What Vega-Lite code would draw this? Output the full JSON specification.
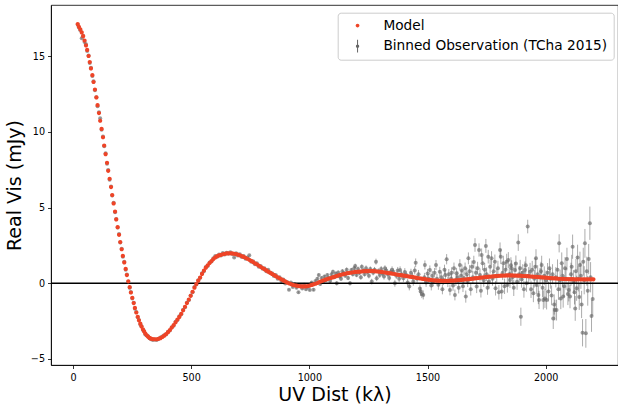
{
  "$schema": "https://vega.github.io/schema/vega-lite/v6.json",
  "width": 567,
  "height": 360,
  "autosize": {"type": "none"},
  "padding": {"left": 51, "top": 5, "right": 0, "bottom": 42},
  "background": "white",
  "datasets": {
    "model": [
      {"u":20,"v":17.13},{"u":25,"v":16.95},{"u":31,"v":16.78},{"u":37,"v":16.58},{"u":43,"v":16.33},{"u":49,"v":16.04},{"u":55,"v":15.72},{"u":60,"v":15.42},{"u":66,"v":15.02},{"u":71,"v":14.62},{"u":76,"v":14.2},{"u":82,"v":13.75},{"u":87,"v":13.3},{"u":93,"v":12.8},{"u":99,"v":12.28},{"u":104,"v":11.77},{"u":110,"v":11.25},{"u":115,"v":10.74},{"u":121,"v":10.2},{"u":127,"v":9.65},{"u":132,"v":9.1},{"u":138,"v":8.53},{"u":144,"v":7.96},{"u":149,"v":7.43},{"u":155,"v":6.9},{"u":161,"v":6.36},{"u":166,"v":5.83},{"u":172,"v":5.28},{"u":178,"v":4.74},{"u":183,"v":4.22},{"u":189,"v":3.71},{"u":195,"v":3.2},{"u":200,"v":2.72},{"u":206,"v":2.25},{"u":211,"v":1.81},{"u":217,"v":1.38},{"u":223,"v":0.95},{"u":228,"v":0.54},{"u":234,"v":0.13},{"u":240,"v":-0.26},{"u":245,"v":-0.61},{"u":251,"v":-0.96},{"u":257,"v":-1.31},{"u":262,"v":-1.63},{"u":268,"v":-1.93},{"u":274,"v":-2.21},{"u":279,"v":-2.45},{"u":285,"v":-2.67},{"u":290,"v":-2.86},{"u":296,"v":-3.04},{"u":301,"v":-3.19},{"u":306,"v":-3.32},{"u":312,"v":-3.44},{"u":318,"v":-3.54},{"u":324,"v":-3.61},{"u":330,"v":-3.66},
      {"u":338,"v":-3.69},{"u":346,"v":-3.7},{"u":354,"v":-3.7},{"u":362,"v":-3.67},{"u":370,"v":-3.63},{"u":378,"v":-3.55},{"u":386,"v":-3.46},{"u":394,"v":-3.35},{"u":402,"v":-3.23},{"u":410,"v":-3.09},{"u":418,"v":-2.93},{"u":426,"v":-2.76},{"u":434,"v":-2.58},{"u":442,"v":-2.4},{"u":450,"v":-2.22},{"u":458,"v":-2.02},{"u":466,"v":-1.79},{"u":474,"v":-1.55},{"u":482,"v":-1.31},{"u":490,"v":-1.07},{"u":498,"v":-0.83},{"u":506,"v":-0.56},{"u":514,"v":-0.29},{"u":522,"v":-0.05},{"u":530,"v":0.17},{"u":538,"v":0.38},{"u":546,"v":0.62},{"u":554,"v":0.84},{"u":562,"v":1.03},{"u":570,"v":1.19},{"u":578,"v":1.34},{"u":586,"v":1.47},{"u":594,"v":1.6},{"u":602,"v":1.71},{"u":610,"v":1.79},{"u":618,"v":1.84},{"u":626,"v":1.88},{"u":634,"v":1.92},{"u":642,"v":1.95},{"u":650,"v":1.97},{"u":658,"v":1.98},{"u":666,"v":1.98},{"u":674,"v":1.97},{"u":682,"v":1.95},{"u":690,"v":1.93},{"u":698,"v":1.89},{"u":706,"v":1.85},{"u":714,"v":1.8},{"u":722,"v":1.74},{"u":730,"v":1.68},{"u":738,"v":1.62},{"u":746,"v":1.55},{"u":754,"v":1.48},{"u":762,"v":1.4},{"u":770,"v":1.32},{"u":778,"v":1.25},{"u":786,"v":1.17},{"u":794,"v":1.09},{"u":802,"v":1.01},{"u":810,"v":0.93},{"u":818,"v":0.85},{"u":826,"v":0.77},{"u":834,"v":0.7},{"u":842,"v":0.62},{"u":850,"v":0.55},{"u":858,"v":0.47},{"u":866,"v":0.4},{"u":874,"v":0.33},{"u":882,"v":0.26},{"u":890,"v":0.19},{"u":898,"v":0.12},{"u":906,"v":0.05},{"u":914,"v":0.0},{"u":922,"v":-0.05},{"u":930,"v":-0.1},{"u":938,"v":-0.13},{"u":946,"v":-0.16},{"u":954,"v":-0.18},{"u":962,"v":-0.2},{"u":970,"v":-0.21},{"u":978,"v":-0.21},{"u":986,"v":-0.2},{"u":994,"v":-0.18},{"u":1002,"v":-0.15},{"u":1010,"v":-0.11},{"u":1018,"v":-0.07},{"u":1026,"v":-0.03},{"u":1034,"v":0.02},{"u":1042,"v":0.08},{"u":1050,"v":0.13},{"u":1058,"v":0.18},{"u":1066,"v":0.22},{"u":1074,"v":0.27},{"u":1082,"v":0.31},{"u":1090,"v":0.35},{"u":1098,"v":0.39},{"u":1106,"v":0.43},{"u":1114,"v":0.47},{"u":1122,"v":0.51},{"u":1130,"v":0.55},{"u":1138,"v":0.58},{"u":1146,"v":0.61},{"u":1154,"v":0.64},{"u":1162,"v":0.67},{"u":1170,"v":0.69},{"u":1178,"v":0.71},{"u":1186,"v":0.73},{"u":1194,"v":0.75},{"u":1202,"v":0.76},{"u":1210,"v":0.77},{"u":1218,"v":0.78},{"u":1226,"v":0.79},{"u":1234,"v":0.8},{"u":1242,"v":0.8},{"u":1250,"v":0.81},{"u":1258,"v":0.81},{"u":1266,"v":0.81},{"u":1274,"v":0.8},{"u":1282,"v":0.79},{"u":1290,"v":0.78},{"u":1298,"v":0.77},{"u":1306,"v":0.75},{"u":1314,"v":0.73},{"u":1322,"v":0.71},{"u":1330,"v":0.69},{"u":1338,"v":0.67},{"u":1346,"v":0.65},{"u":1354,"v":0.63},{"u":1362,"v":0.61},{"u":1370,"v":0.58},{"u":1378,"v":0.56},{"u":1386,"v":0.54},{"u":1394,"v":0.52},{"u":1402,"v":0.5},{"u":1410,"v":0.48},{"u":1418,"v":0.46},{"u":1426,"v":0.44},{"u":1434,"v":0.42},{"u":1442,"v":0.4},{"u":1450,"v":0.37},{"u":1458,"v":0.35},{"u":1466,"v":0.33},{"u":1474,"v":0.31},{"u":1482,"v":0.29},{"u":1490,"v":0.27},{"u":1498,"v":0.25},{"u":1506,"v":0.23},{"u":1514,"v":0.22},{"u":1522,"v":0.2},{"u":1530,"v":0.19},{"u":1538,"v":0.18},{"u":1546,"v":0.17},{"u":1554,"v":0.17},{"u":1562,"v":0.16},{"u":1570,"v":0.16},{"u":1578,"v":0.16},{"u":1586,"v":0.16},{"u":1594,"v":0.17},{"u":1602,"v":0.17},{"u":1610,"v":0.18},{"u":1618,"v":0.19},{"u":1626,"v":0.2},{"u":1634,"v":0.21},{"u":1642,"v":0.22},{"u":1650,"v":0.24},{"u":1658,"v":0.25},{"u":1666,"v":0.26},{"u":1674,"v":0.27},{"u":1682,"v":0.29},{"u":1690,"v":0.3},{"u":1698,"v":0.32},{"u":1706,"v":0.34},{"u":1714,"v":0.35},{"u":1722,"v":0.37},{"u":1730,"v":0.38},{"u":1738,"v":0.4},{"u":1746,"v":0.41},{"u":1754,"v":0.42},{"u":1762,"v":0.44},{"u":1770,"v":0.45},{"u":1778,"v":0.46},{"u":1786,"v":0.47},{"u":1794,"v":0.48},{"u":1802,"v":0.49},{"u":1810,"v":0.5},{"u":1818,"v":0.51},{"u":1826,"v":0.51},{"u":1834,"v":0.52},{"u":1842,"v":0.52},{"u":1850,"v":0.52},{"u":1858,"v":0.52},{"u":1866,"v":0.51},{"u":1874,"v":0.51},{"u":1882,"v":0.5},{"u":1890,"v":0.5},{"u":1898,"v":0.49},{"u":1906,"v":0.48},{"u":1914,"v":0.48},{"u":1922,"v":0.47},{"u":1930,"v":0.46},{"u":1938,"v":0.45},{"u":1946,"v":0.44},{"u":1954,"v":0.43},{"u":1962,"v":0.42},{"u":1970,"v":0.41},{"u":1978,"v":0.4},{"u":1986,"v":0.39},{"u":1994,"v":0.38},{"u":2002,"v":0.37},{"u":2010,"v":0.36},{"u":2018,"v":0.35},{"u":2026,"v":0.34},{"u":2034,"v":0.33},{"u":2042,"v":0.32},{"u":2050,"v":0.31},{"u":2058,"v":0.3},{"u":2066,"v":0.3},{"u":2074,"v":0.29},{"u":2082,"v":0.28},{"u":2090,"v":0.28},{"u":2098,"v":0.27},{"u":2106,"v":0.27},{"u":2114,"v":0.27},{"u":2122,"v":0.26},{"u":2130,"v":0.26},{"u":2138,"v":0.26},{"u":2146,"v":0.26},{"u":2154,"v":0.26},{"u":2162,"v":0.26},{"u":2170,"v":0.26},{"u":2178,"v":0.26},{"u":2186,"v":0.26},{"u":2194,"v":0.26},{"u":2202,"v":0.26}
    ],
    "obs": [
      {"u":20,"v":17.08,"e":0.04},{"u":25,"v":16.9,"e":0.04},{"u":31,"v":16.72,"e":0.04},{"u":37,"v":16.2,"e":0.04},{"u":43,"v":16.35,"e":0.04},{"u":49,"v":15.95,"e":0.04},{"u":55,"v":15.8,"e":0.04},{"u":60,"v":15.35,"e":0.04},{"u":66,"v":15.05,"e":0.04},{"u":71,"v":14.55,"e":0.04},{"u":76,"v":14.25,"e":0.04},{"u":82,"v":13.7,"e":0.04},{"u":87,"v":13.35,"e":0.04},{"u":93,"v":12.75,"e":0.04},{"u":99,"v":12.3,"e":0.04},{"u":104,"v":11.7,"e":0.04},{"u":110,"v":11.3,"e":0.04},{"u":115,"v":10.9,"e":0.04},{"u":121,"v":10.15,"e":0.04},{"u":127,"v":9.7,"e":0.04},{"u":132,"v":9.05,"e":0.04},{"u":138,"v":8.6,"e":0.04},{"u":144,"v":7.9,"e":0.04},{"u":149,"v":7.48,"e":0.04},{"u":155,"v":6.85,"e":0.04},{"u":161,"v":6.4,"e":0.04},{"u":166,"v":5.8,"e":0.04},{"u":172,"v":5.32,"e":0.04},{"u":178,"v":4.7,"e":0.04},{"u":183,"v":4.25,"e":0.04},{"u":189,"v":3.68,"e":0.04},{"u":195,"v":3.25,"e":0.04},{"u":200,"v":2.7,"e":0.04},{"u":206,"v":2.28,"e":0.04},{"u":211,"v":1.75,"e":0.04},{"u":217,"v":1.42,"e":0.04},{"u":223,"v":0.9,"e":0.04},{"u":228,"v":0.58,"e":0.04},{"u":234,"v":0.1,"e":0.04},{"u":240,"v":-0.3,"e":0.04},{"u":245,"v":-0.58,"e":0.04},{"u":251,"v":-1.0,"e":0.04},{"u":257,"v":-1.28,"e":0.04},{"u":262,"v":-1.68,"e":0.04},{"u":268,"v":-1.9,"e":0.04},{"u":274,"v":-2.25,"e":0.04},{"u":279,"v":-2.42,"e":0.04},{"u":285,"v":-2.72,"e":0.04},{"u":290,"v":-2.84,"e":0.04},{"u":296,"v":-3.08,"e":0.04},{"u":301,"v":-3.16,"e":0.04},{"u":306,"v":-3.38,"e":0.04},
      {"u":312,"v":-3.45,"e":0.04},{"u":318,"v":-3.5,"e":0.04},{"u":324,"v":-3.63,"e":0.04},{"u":330,"v":-3.7,"e":0.04},{"u":338,"v":-3.74,"e":0.04},{"u":346,"v":-3.72,"e":0.04},{"u":354,"v":-3.75,"e":0.04},{"u":362,"v":-3.66,"e":0.04},{"u":370,"v":-3.58,"e":0.04},{"u":378,"v":-3.52,"e":0.04},{"u":386,"v":-3.44,"e":0.04},{"u":394,"v":-3.38,"e":0.04},{"u":402,"v":-3.2,"e":0.04},{"u":410,"v":-3.12,"e":0.04},{"u":418,"v":-2.9,"e":0.04},{"u":426,"v":-2.8,"e":0.04},{"u":434,"v":-2.55,"e":0.04},{"u":442,"v":-2.43,"e":0.04},{"u":450,"v":-2.18,"e":0.04},{"u":458,"v":-2.05,"e":0.04},{"u":466,"v":-1.75,"e":0.04},{"u":474,"v":-1.58,"e":0.04},{"u":482,"v":-1.28,"e":0.04},{"u":490,"v":-1.12,"e":0.04},{"u":498,"v":-0.8,"e":0.04},{"u":506,"v":-0.6,"e":0.04},{"u":514,"v":-0.25,"e":0.04},{"u":522,"v":-0.08,"e":0.04},{"u":530,"v":0.2,"e":0.04},{"u":538,"v":0.36,"e":0.04},{"u":546,"v":0.66,"e":0.04},{"u":554,"v":0.8,"e":0.04},{"u":562,"v":1.08,"e":0.04},{"u":570,"v":1.15,"e":0.04},{"u":578,"v":1.38,"e":0.04},{"u":586,"v":1.44,"e":0.04},{"u":594,"v":1.65,"e":0.04},{"u":602,"v":1.8,"e":0.04},{"u":610,"v":1.76,"e":0.04},{"u":618,"v":1.9,"e":0.04},{"u":626,"v":1.84,"e":0.04},{"u":634,"v":2.0,"e":0.04},{"u":642,"v":1.9,"e":0.04},{"u":650,"v":2.02,"e":0.04},{"u":658,"v":1.95,"e":0.04},{"u":666,"v":2.05,"e":0.04},{"u":674,"v":1.93,"e":0.04},{"u":682,"v":1.7,"e":0.04},{"u":690,"v":1.98,"e":0.04},{"u":698,"v":1.84,"e":0.04},{"u":706,"v":1.92,"e":0.04},{"u":714,"v":1.74,"e":0.04},{"u":722,"v":1.8,"e":0.04},{"u":730,"v":1.62,"e":0.04},{"u":738,"v":1.7,"e":0.04},{"u":746,"v":1.85,"e":0.04},{"u":754,"v":1.42,"e":0.04},{"u":762,"v":1.45,"e":0.04},{"u":770,"v":1.25,"e":0.04},{"u":778,"v":1.32,"e":0.04},{"u":786,"v":1.1,"e":0.04},{"u":794,"v":1.15,"e":0.04},{"u":802,"v":0.96,"e":0.05},{"u":810,"v":1.0,"e":0.05},{"u":818,"v":0.8,"e":0.05},{"u":826,"v":0.9,"e":0.05},{"u":834,"v":0.7,"e":0.05},{"u":842,"v":0.66,"e":0.05},{"u":850,"v":0.48,"e":0.05},{"u":858,"v":0.55,"e":0.05},{"u":866,"v":0.3,"e":0.05},{"u":874,"v":0.4,"e":0.05},{"u":882,"v":0.15,"e":0.05},{"u":890,"v":0.25,"e":0.05},{"u":898,"v":-0.02,"e":0.06},{"u":906,"v":0.08,"e":0.06},{"u":914,"v":-0.42,"e":0.06},{"u":922,"v":0.05,"e":0.06},{"u":930,"v":-0.25,"e":0.06},{"u":938,"v":-0.05,"e":0.06},{"u":946,"v":-0.3,"e":0.07},{"u":954,"v":-0.6,"e":0.07},{"u":962,"v":-0.12,"e":0.07},{"u":970,"v":-0.35,"e":0.07},{"u":978,"v":-0.1,"e":0.08},{"u":986,"v":-0.4,"e":0.08},{"u":994,"v":-0.25,"e":0.08},{"u":1002,"v":-0.44,"e":0.08},{"u":1010,"v":0.05,"e":0.09},{"u":1018,"v":-0.42,"e":0.09},{"u":1026,"v":0.15,"e":0.09},{"u":1034,"v":0.3,"e":0.1},
      {"u":1040,"v":0.55,"e":0.1},{"u":1046,"v":-0.05,"e":0.1},{"u":1052,"v":0.35,"e":0.11},{"u":1058,"v":0.1,"e":0.1},{"u":1064,"v":0.45,"e":0.11},{"u":1070,"v":0.2,"e":0.12},{"u":1076,"v":0.55,"e":0.1},{"u":1082,"v":0.35,"e":0.12},{"u":1088,"v":0.15,"e":0.11},{"u":1094,"v":0.6,"e":0.12},{"u":1100,"v":0.77,"e":0.13},{"u":1106,"v":0.4,"e":0.12},{"u":1112,"v":0.65,"e":0.12},{"u":1116,"v":0.0,"e":0.14},{"u":1122,"v":0.72,"e":0.13},{"u":1128,"v":0.45,"e":0.12},{"u":1134,"v":0.3,"e":0.14},{"u":1140,"v":0.8,"e":0.13},{"u":1146,"v":0.66,"e":0.14},{"u":1152,"v":0.5,"e":0.13},{"u":1158,"v":0.9,"e":0.15},{"u":1164,"v":0.35,"e":0.14},{"u":1172,"v":0.0,"e":0.15},{"u":1178,"v":0.88,"e":0.14},{"u":1184,"v":0.6,"e":0.15},{"u":1190,"v":1.0,"e":0.15},{"u":1194,"v":1.14,"e":0.16},{"u":1200,"v":0.55,"e":0.15},{"u":1206,"v":0.95,"e":0.16},{"u":1212,"v":0.7,"e":0.16},{"u":1218,"v":0.4,"e":0.17},{"u":1222,"v":1.1,"e":0.16},{"u":1228,"v":0.85,"e":0.17},{"u":1234,"v":0.6,"e":0.16},{"u":1240,"v":1.0,"e":0.18},{"u":1246,"v":0.75,"e":0.17},{"u":1252,"v":0.5,"e":0.18},{"u":1258,"v":0.95,"e":0.17},{"u":1264,"v":0.11,"e":0.19},{"u":1270,"v":0.7,"e":0.18},{"u":1276,"v":0.9,"e":0.18},{"u":1282,"v":1.43,"e":0.2},{"u":1285,"v":0.33,"e":0.19},{"u":1292,"v":0.8,"e":0.19},{"u":1298,"v":0.55,"e":0.2},{"u":1304,"v":0.95,"e":0.19},{"u":1310,"v":0.65,"e":0.2},{"u":1316,"v":0.45,"e":0.21},{"u":1320,"v":0.99,"e":0.2},{"u":1326,"v":0.85,"e":0.21},{"u":1332,"v":0.6,"e":0.2},{"u":1338,"v":0.35,"e":0.22},{"u":1344,"v":0.75,"e":0.21},{"u":1350,"v":0.9,"e":0.22},{"u":1355,"v":0.77,"e":0.21},{"u":1362,"v":0.0,"e":0.23},{"u":1368,"v":0.5,"e":0.22},{"u":1374,"v":0.85,"e":0.23},{"u":1380,"v":0.3,"e":0.22},{"u":1384,"v":0.88,"e":0.24},{"u":1390,"v":0.6,"e":0.23},{"u":1398,"v":0.33,"e":0.24},{"u":1404,"v":0.75,"e":0.25},{"u":1410,"v":0.55,"e":0.24},{"u":1416,"v":0.05,"e":0.26},{"u":1423,"v":-0.22,"e":0.25},{"u":1430,"v":0.7,"e":0.26},{"u":1436,"v":0.45,"e":0.25},{"u":1440,"v":0.11,"e":0.27},{"u":1446,"v":0.85,"e":0.26},{"u":1450,"v":1.36,"e":0.28},{"u":1456,"v":0.3,"e":0.27},{"u":1462,"v":0.6,"e":0.28},{"u":1468,"v":-0.35,"e":0.27},{"u":1471,"v":-0.55,"e":0.3},{"u":1476,"v":-0.7,"e":0.28},{"u":1482,"v":-0.77,"e":0.3},{"u":1487,"v":0.4,"e":0.29},{"u":1489,"v":1.21,"e":0.3},{"u":1494,"v":0.05,"e":0.29},{"u":1500,"v":0.65,"e":0.3},{"u":1505,"v":0.3,"e":0.31},{"u":1510,"v":0.88,"e":0.3},{"u":1516,"v":-0.15,"e":0.32},{"u":1520,"v":0.5,"e":0.31},{"u":1524,"v":0.11,"e":0.32},{"u":1530,"v":0.7,"e":0.31},{"u":1536,"v":1.21,"e":0.33},{"u":1540,"v":0.3,"e":0.32},{"u":1546,"v":-0.1,"e":0.33},{"u":1552,"v":0.77,"e":0.32},{"u":1558,"v":0.4,"e":0.34},{"u":1563,"v":-0.4,"e":0.33},{"u":1567,"v":0.22,"e":0.34},{"u":1572,"v":0.9,"e":0.33},{"u":1576,"v":0.55,"e":0.35},{"u":1581,"v":1.59,"e":0.34},{"u":1586,"v":0.1,"e":0.35},{"u":1590,"v":0.6,"e":0.34},{"u":1595,"v":-0.44,"e":0.36},{"u":1600,"v":0.3,"e":0.35},{"u":1602,"v":0.7,"e":0.36},{"u":1608,"v":-0.15,"e":0.35},{"u":1612,"v":1.0,"e":0.37},{"u":1616,"v":-0.77,"e":0.36},{"u":1620,"v":0.2,"e":0.37},{"u":1623,"v":0.66,"e":0.36},{"u":1628,"v":0.4,"e":0.38},{"u":1632,"v":-0.3,"e":0.37},{"u":1637,"v":1.21,"e":0.38},{"u":1642,"v":0.5,"e":0.37},{"u":1646,"v":0.85,"e":0.39},{"u":1650,"v":-0.2,"e":0.38},{"u":1654,"v":0.35,"e":0.39},{"u":1659,"v":0.99,"e":0.38},{"u":1662,"v":-0.88,"e":0.4},{"u":1666,"v":0.6,"e":0.39},{"u":1670,"v":0.15,"e":0.4},{"u":1673,"v":1.65,"e":0.39},{"u":1678,"v":0.8,"e":0.4},{"u":1683,"v":-0.4,"e":0.41},{"u":1688,"v":1.1,"e":0.4},{"u":1692,"v":0.4,"e":0.41},{"u":1696,"v":1.4,"e":0.42},{"u":1701,"v":2.53,"e":0.45},{"u":1705,"v":0.7,"e":0.42},{"u":1708,"v":-0.22,"e":0.43},{"u":1712,"v":1.0,"e":0.42},{"u":1718,"v":2.2,"e":0.44},{"u":1722,"v":0.55,"e":0.43},{"u":1726,"v":-0.5,"e":0.44},{"u":1729,"v":1.87,"e":0.43},{"u":1733,"v":1.32,"e":0.45},{"u":1738,"v":0.2,"e":0.44},{"u":1742,"v":0.9,"e":0.45},{"u":1747,"v":2.47,"e":0.46},{"u":1750,"v":0.6,"e":0.45},{"u":1754,"v":-0.3,"e":0.46},{"u":1757,"v":1.76,"e":0.45},{"u":1760,"v":0.11,"e":0.47},{"u":1765,"v":1.1,"e":0.46},{"u":1771,"v":1.65,"e":0.47},{"u":1775,"v":0.3,"e":0.46},{"u":1780,"v":0.8,"e":0.48},{"u":1785,"v":1.43,"e":0.47},{"u":1788,"v":-0.33,"e":0.48},{"u":1793,"v":0.5,"e":0.47},{"u":1798,"v":1.0,"e":0.49},{"u":1802,"v":-0.6,"e":0.48},{"u":1807,"v":2.2,"e":0.5},{"u":1810,"v":1.76,"e":0.49},{"u":1814,"v":-0.55,"e":0.5},{"u":1818,"v":0.7,"e":0.49},{"u":1821,"v":1.32,"e":0.5},{"u":1826,"v":-0.2,"e":0.51},{"u":1830,"v":0.9,"e":0.5},{"u":1835,"v":1.43,"e":0.52},{"u":1838,"v":-0.11,"e":0.51},{"u":1842,"v":1.54,"e":0.52},{"u":1846,"v":0.6,"e":0.51},{"u":1849,"v":0.22,"e":0.53},{"u":1853,"v":1.2,"e":0.52},{"u":1856,"v":0.99,"e":0.53},{"u":1860,"v":0.4,"e":0.52},{"u":1865,"v":-0.3,"e":0.54},{"u":1870,"v":0.88,"e":0.53},{"u":1874,"v":1.3,"e":0.54},{"u":1879,"v":0.1,"e":0.53},{"u":1884,"v":2.69,"e":0.55},{"u":1888,"v":0.6,"e":0.54},{"u":1892,"v":1.0,"e":0.55},{"u":1895,"v":-2.21,"e":0.6},{"u":1898,"v":0.26,"e":0.55},{"u":1903,"v":0.7,"e":0.56},{"u":1908,"v":-0.4,"e":0.55},{"u":1912,"v":0.88,"e":0.56},{"u":1916,"v":1.2,"e":0.57},{"u":1919,"v":0.0,"e":0.56},{"u":1924,"v":3.75,"e":0.45},{"u":1928,"v":0.5,"e":0.57},{"u":1934,"v":0.77,"e":0.58},{"u":1938,"v":-0.4,"e":0.57},{"u":1943,"v":0.9,"e":0.58},{"u":1948,"v":-0.66,"e":0.59},{"u":1952,"v":0.3,"e":0.58},{"u":1956,"v":1.1,"e":0.59},{"u":1959,"v":1.65,"e":0.6},{"u":1962,"v":-0.11,"e":0.59},{"u":1966,"v":0.6,"e":0.6},{"u":1969,"v":-0.77,"e":0.61},{"u":1972,"v":-1.1,"e":0.6},{"u":1976,"v":0.4,"e":0.61},{"u":1980,"v":0.8,"e":0.62},{"u":1983,"v":1.21,"e":0.61},{"u":1987,"v":-0.3,"e":0.62},{"u":1990,"v":-1.1,"e":0.63},{"u":1994,"v":0.5,"e":0.62},{"u":1997,"v":-1.0,"e":0.63},{"u":2001,"v":0.2,"e":0.64},{"u":2004,"v":-1.1,"e":0.63},{"u":2008,"v":0.7,"e":0.64},{"u":2012,"v":-0.55,"e":0.65},{"u":2016,"v":1.0,"e":0.64},{"u":2020,"v":0.3,"e":0.66},{"u":2025,"v":-0.8,"e":0.65},{"u":2029,"v":0.6,"e":0.66},{"u":2032,"v":-2.32,"e":0.7},{"u":2036,"v":-1.4,"e":0.67},{"u":2039,"v":-1.77,"e":0.68},{"u":2043,"v":0.4,"e":0.67},{"u":2046,"v":-1.77,"e":0.69},{"u":2050,"v":0.9,"e":0.68},{"u":2054,"v":-0.4,"e":0.7},{"u":2057,"v":2.64,"e":0.6},{"u":2061,"v":0.2,"e":0.7},{"u":2064,"v":-1.0,"e":0.71},{"u":2068,"v":1.32,"e":0.72},{"u":2071,"v":0.5,"e":0.71},{"u":2074,"v":-0.88,"e":0.73},{"u":2078,"v":-0.2,"e":0.72},{"u":2082,"v":0.99,"e":0.74},{"u":2086,"v":0.3,"e":0.73},{"u":2090,"v":1.6,"e":0.75},{"u":2094,"v":-0.7,"e":0.74},{"u":2098,"v":-0.44,"e":0.76},{"u":2103,"v":-0.88,"e":0.77},{"u":2107,"v":0.6,"e":0.76},{"u":2110,"v":1.1,"e":0.78},{"u":2114,"v":2.42,"e":0.8},{"u":2118,"v":0.1,"e":0.78},{"u":2122,"v":-0.6,"e":0.8},{"u":2125,"v":-1.66,"e":0.82},{"u":2128,"v":0.8,"e":0.8},{"u":2131,"v":-0.33,"e":0.83},{"u":2135,"v":1.7,"e":0.85},{"u":2138,"v":0.3,"e":0.84},{"u":2142,"v":-0.9,"e":0.86},{"u":2145,"v":1.21,"e":0.88},{"u":2149,"v":0.5,"e":0.87},{"u":2152,"v":-1.4,"e":0.9},{"u":2156,"v":-3.27,"e":0.9},{"u":2159,"v":1.43,"e":0.92},{"u":2163,"v":0.2,"e":0.93},{"u":2166,"v":2.64,"e":0.95},{"u":2170,"v":-3.31,"e":0.95},{"u":2174,"v":0.8,"e":0.96},{"u":2178,"v":-0.5,"e":0.98},{"u":2182,"v":1.6,"e":1.0},{"u":2187,"v":3.97,"e":1.1},{"u":2190,"v":0.4,"e":1.0},{"u":2194,"v":-2.16,"e":1.05},{"u":2199,"v":-1.04,"e":1.1}
    ]
  },
  "layer": [
    {
      "data": {"name": "obs"},
      "mark": {"type": "errorbar", "ticks": false, "thickness": 1, "color": "#000000", "opacity": 0.33},
      "encoding": {
        "x": {"field": "u", "type": "quantitative", "scale": {"domain": [-93, 2306], "nice": false, "zero": false}, "title": "UV Dist (kλ)", "axis": {"values": [0, 500, 1000, 1500, 2000], "format": "d", "titleY": 35, "titleBaseline": "alphabetic", "labelPadding": 4}},
        "y": {"field": "v", "type": "quantitative", "scale": {"domain": [-5.4, 18.39], "nice": false, "zero": false}, "title": "Real Vis (mJy)", "axis": {"values": [-5, 0, 5, 10, 15], "titleX": -30.5, "titleY": 180, "titleBaseline": "alphabetic", "titleAlign": "center", "labelExpr": "replace(datum.label, '-', '−')"}},
        "yError": {"field": "e"}
      }
    },
    {
      "data": {"name": "obs"},
      "mark": {"type": "circle", "size": 16, "opacity": 0.65},
      "encoding": {
        "x": {"field": "u", "type": "quantitative", "scale": {"domain": [-93, 2306], "nice": false, "zero": false}, "title": "UV Dist (kλ)"},
        "y": {"field": "v", "type": "quantitative", "scale": {"domain": [-5.4, 18.39], "nice": false, "zero": false}, "title": "Real Vis (mJy)"},
        "color": {"datum": "Binned Observation (TCha 2015)", "type": "nominal", "scale": {"domain": ["Model", "Binned Observation (TCha 2015)"], "range": ["#ee4427", "#666666"]}, "legend": {"title": null}}
      }
    },
    {
      "data": {"values": [{}]},
      "mark": {"type": "rule", "color": "#000000", "strokeWidth": 1.4},
      "encoding": {"y": {"datum": 0, "type": "quantitative", "scale": {"domain": [-5.4, 18.39], "nice": false, "zero": false}, "title": "Real Vis (mJy)"}}
    },
    {
      "data": {"name": "model"},
      "mark": {"type": "point", "filled": true, "size": 196, "opacity": 1},
      "encoding": {
        "x": {"field": "u", "type": "quantitative", "scale": {"domain": [-93, 2306], "nice": false, "zero": false}, "title": "UV Dist (kλ)"},
        "y": {"field": "v", "type": "quantitative", "scale": {"domain": [-5.4, 18.39], "nice": false, "zero": false}, "title": "Real Vis (mJy)"},
        "color": {"datum": "Model", "type": "nominal", "scale": {"domain": ["Model", "Binned Observation (TCha 2015)"], "range": ["#ee4427", "#666666"]}, "legend": {"title": null}},
        "shape": {"datum": "Model", "type": "nominal", "scale": {"domain": ["Model", "Binned Observation (TCha 2015)"], "range": ["M0.3,0A0.3,0.3 0 1,1 -0.3,0A0.3,0.3 0 1,1 0.3,0Z", "M-0.08,-1H0.08V1H-0.08Z M0.26,0A0.26,0.26 0 1,1 -0.26,0A0.26,0.26 0 1,1 0.26,0Z"]}, "legend": {"title": null}}
      }
    }
  ],
  "config": {
    "view": {"stroke": "#000000", "strokeWidth": 0.8},
    "axis": {"grid": false, "domainColor": "#000000", "domainWidth": 0.8, "tickColor": "#000000", "tickWidth": 0.8, "tickSize": 3.5, "labelFont": "DejaVu Sans", "labelFontSize": 9.6, "labelColor": "#000000", "labelPadding": 3, "titleFont": "DejaVu Sans", "titleFontSize": 19, "titleFontWeight": "normal", "titleColor": "#000000"},
    "legend": {"orient": "none", "legendX": 286.7, "legendY": 7.7, "padding": 6, "symbolOffset": 7, "labelOffset": 19, "rowPadding": 5.6, "labelLimit": 400, "labelFont": "DejaVu Sans", "labelFontSize": 13.7, "labelColor": "#000000", "strokeColor": "#cccccc", "cornerRadius": 3, "fillColor": "rgba(255,255,255,0.8)", "symbolSize": 160, "symbolOpacity": 1, "symbolStrokeWidth": 0}
  }
}
